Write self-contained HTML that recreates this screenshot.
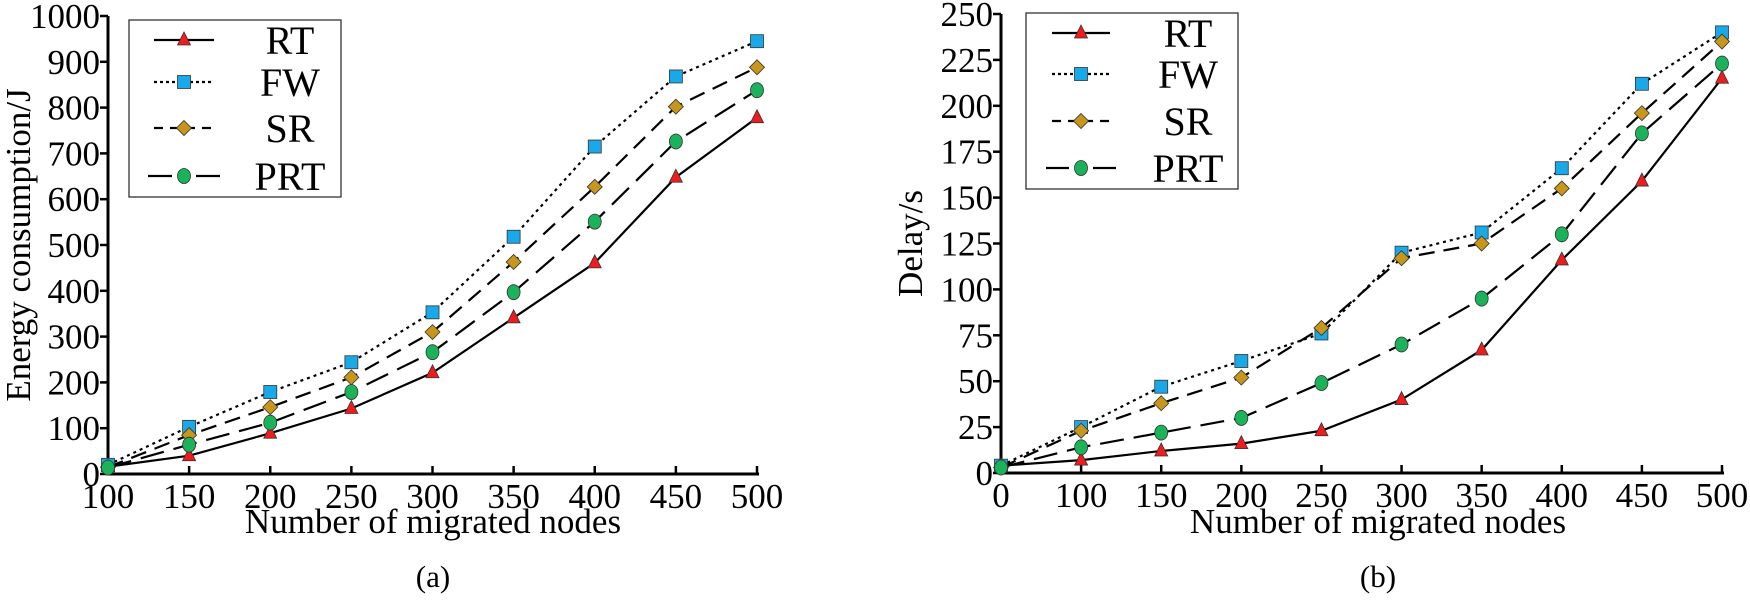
<!DOCTYPE html>
<html><head><meta charset="utf-8"><style>
body{margin:0;background:#fff;}
svg{display:block;font-family:"Liberation Serif",serif;}
</style></head><body>
<svg id="fig" width="1750" height="601"></svg>
<script>
const catsA=[100,150,200,250,300,350,400,450,500];
const rtA=[16,40,89,143,221,341,461,648,778];
const fwA=[20,103,179,244,353,518,715,868,945];
const srA=[15,85,146,211,310,463,627,802,888];
const prtA=[14,64,112,179,266,397,551,726,838];
const yTicksA=[0,100,200,300,400,500,600,700,800,900,1000];

const catsB=[0,100,150,200,250,300,350,400,450,500];
const rtB=[4,7,12,16,23,40,67,116,159,215];
const fwB=[4,25,47,61,76,120,131,166,212,240];
const srB=[3,23,38,52,79,117,125,155,196,235];
const prtB=[3,14,22,30,49,70,95,130,185,223];
const yTicksB=[0,25,50,75,100,125,150,175,200,225,250];

const NS="http://www.w3.org/2000/svg";
const svg=document.getElementById('fig');
function mk(tag,attrs,parent,text){const e=document.createElementNS(NS,tag);for(const k in attrs)e.setAttribute(k,attrs[k]);if(text!==undefined)e.textContent=text;(parent||svg).appendChild(e);return e;}

const styles={
 RT:{dash:'',marker:'tri',fill:'#ee1c1c'},
 FW:{dash:'3,4',marker:'sq',fill:'#1aa9e8'},
 SR:{dash:'16,9',marker:'dia',fill:'#c8961a'},
 PRT:{dash:'24,10',marker:'circ',fill:'#1bb35a'}
};
function marker(g,type,x,y,fill){
 let m;
 if(type==='tri')m=mk('polygon',{points:`${x},${y-8} ${x-6.5},${y+5} ${x+6.5},${y+5}`,fill:fill,stroke:'#333','stroke-width':0.8},g);
 else if(type==='sq')m=mk('rect',{x:x-6.5,y:y-6.5,width:13,height:13,fill:fill,stroke:'#333','stroke-width':0.8},g);
 else if(type==='dia')m=mk('polygon',{points:`${x},${y-7.5} ${x+7.5},${y} ${x},${y+7.5} ${x-7.5},${y}`,fill:fill,stroke:'#333','stroke-width':0.8},g);
 else m=mk('ellipse',{cx:x,cy:y,rx:6.5,ry:7.5,fill:fill,stroke:'#333','stroke-width':0.8},g);
 return m;
}

function chart(cfg){
 const g=mk('g',{});
 
 
 const xs=i=>cfg.x0+i*(cfg.x1-cfg.x0)/(cfg.cats.length-1);
 const ys=v=>cfg.yb-(v-cfg.ymin)/(cfg.ymax-cfg.ymin)*(cfg.yb-cfg.yt);
 const ax=mk('path',{d:`M${cfg.x0},${cfg.yt} V${cfg.yb} H${cfg.x1+2}`,fill:'none',stroke:'#000','stroke-width':3},g);
 
 
 cfg.yticks.forEach(v=>{
  mk('line',{x1:cfg.x0-8,x2:cfg.x0,y1:ys(v),y2:ys(v),stroke:'#000','stroke-width':2.5},g);
  const t=mk('text',{x:cfg.x0-8,y:ys(v)+12,'text-anchor':'end','font-size':35},g,String(v));
  
  
 });
 cfg.cats.forEach((c,i)=>{
  mk('line',{x1:xs(i),x2:xs(i),y1:cfg.yb,y2:cfg.yb-8,stroke:'#000','stroke-width':2.5},g);
  const t=mk('text',{x:xs(i),y:cfg.yb+34,'text-anchor':'middle','font-size':35},g,String(c));
  
  
 });
 const xt=mk('text',{x:cfg.xtx,y:533,'text-anchor':'middle','font-size':35},g,'Number of migrated nodes');
 
 
 const yt=mk('text',{x:0,y:0,'text-anchor':'middle','font-size':35,transform:`translate(${cfg.ytx},${(cfg.yt+cfg.yb)/2}) rotate(-90)`},g,cfg.ytitle);
 
 
 const cap=mk('text',{x:cfg.xtx,y:587,'text-anchor':'middle','font-size':31},g,cfg.cap);
 
 
 const order=['RT','FW','SR','PRT'];
 order.forEach(k=>{
  const vals=cfg.series[k], st=styles[k];
  const p=mk('polyline',{points:vals.map((v,i)=>`${xs(i)},${ys(v)}`).join(' '),fill:'none',stroke:'#000','stroke-width':2.2,'stroke-dasharray':st.dash},g);
  
  
 });
 order.forEach(k=>{
  const vals=cfg.series[k], st=styles[k];
  vals.forEach((v,i)=>{const m=marker(g,st.marker,xs(i),ys(v),st.fill);
   
   });
 });
 const L=cfg.leg;
 const lg=mk('g',{},g);
 
 
 mk('rect',{x:L.x,y:L.y,width:L.w,height:L.h,fill:'#fff',stroke:'#333','stroke-width':1.3},lg);
 order.forEach((k,i)=>{
  const yy=L.ys[i], st=styles[k];
  const e=mk('g',{},lg);
  
  
  const ld=k==='SR'?'9,7':(k==='FW'?'3,3':'');
  mk('line',{x1:L.lx1-(k==='PRT'?6:0),x2:L.lx2+(k==='PRT'?6:0),y1:yy,y2:yy,stroke:'#000','stroke-width':2.2,'stroke-dasharray':ld},e);
  if(k==='PRT'){mk('rect',{x:(L.lx1+L.lx2)/2-12,y:yy-3,width:24,height:6,fill:'#fff'},e);}
  marker(e,st.marker,(L.lx1+L.lx2)/2,yy,st.fill);
  mk('text',{x:L.tx,y:yy+14,'text-anchor':'middle','font-size':40},e,k);
 });
}

chart({name:'chart-energy',cats:catsA,series:{RT:rtA,FW:fwA,SR:srA,PRT:prtA},yticks:yTicksA,ymin:0,ymax:1000,
 x0:108,x1:757,yt:16,yb:474,xtx:433,ytx:30,ytitle:'Energy consumption/J',cap:'(a)',
 leg:{x:129,y:20,w:212,h:177,ys:[40,82,128,176],lx1:154,lx2:214,tx:290}});
chart({name:'chart-delay',cats:catsB,series:{RT:rtB,FW:fwB,SR:srB,PRT:prtB},yticks:yTicksB,ymin:0,ymax:250,
 x0:1001,x1:1722,yt:14,yb:473,xtx:1378,ytx:922,ytitle:'Delay/s',cap:'(b)',
 leg:{x:1026,y:13,w:212,h:176,ys:[33,74,121,168],lx1:1052,lx2:1110,tx:1188}});
</script>
</body></html>
